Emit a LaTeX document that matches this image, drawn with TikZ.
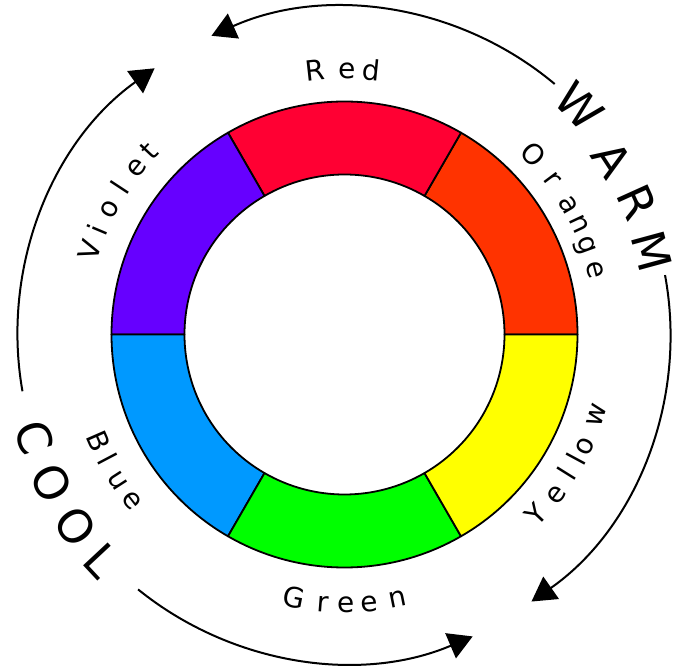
\documentclass[tikz,border=0pt]{standalone}
\usepackage{fontspec}
\setmainfont{DejaVu Sans}
\usetikzlibrary{arrows.meta}
\definecolor{segred}{HTML}{FF0033}
\definecolor{segorange}{HTML}{FF3300}
\definecolor{segyellow}{HTML}{FFFF00}
\definecolor{seggreen}{HTML}{00FF00}
\definecolor{segblue}{HTML}{0099FF}
\definecolor{segviolet}{HTML}{6600FF}
\begin{document}
\begin{tikzpicture}[x=1pt,y=1pt,
  lab/.style={font=\fontsize{28}{28}\selectfont, inner sep=0pt, anchor=base},
  big/.style={font=\fontsize{46}{46}\selectfont, inner sep=0pt, anchor=center},
  seg/.style={draw=black, line width=1.8pt, line join=round},
  cyc/.style={line width=2pt, -{Triangle[length=24pt,width=27pt]}}]
\useasboundingbox (-344.5,-336.5) rectangle (329.5,334.5);
% colour ring
\foreach \a/\b/\c in {0/60/segorange, 60/120/segred, 120/180/segviolet,
                      180/240/segblue, 240/300/seggreen, 300/360/segyellow}
  \draw[seg, fill=\c] (\a:233) arc[start angle=\a, end angle=\b, radius=233]
        -- (\b:160) arc[start angle=\b, end angle=\a, radius=160] -- cycle;
% colour labels (upper half, reading clockwise)
\foreach \ch/\a [count=\i] in {R/96.3,e/89.5,d/84.3}
  \node[lab, rotate=\a-90] (red\i) at (\a:255.5) {\ch};
\foreach \ch/\a [count=\i] in {O/43.7,r/36.7,a/30.1,n/25.1,g/20.2,e/14.4}
  \node[lab, rotate=\a-90] (orange\i) at (\a:251) {\ch};
\foreach \ch/\a [count=\i] in {V/161.6,i/157.1,o/151.9,l/146.7,e/141.3,t/136.8}
  \node[lab, rotate=\a-90] (violet\i) at (\a:258) {\ch};
% colour labels (lower half, reading anticlockwise)
\foreach \ch/\a [count=\i] in {B/203.6,l/207.8,u/212.8,e/218}
  \node[lab, rotate=\a+90] (blue\i) at (\a:278) {\ch};
\foreach \ch/\a [count=\i] in {G/259.1,r/265.45,e/270.26,e/275.26,n/281.4}
  \node[lab, rotate=\a+90] (green\i) at (\a:278) {\ch};
\foreach \ch/\a [count=\i] in {Y/-43.3,e/-37.1,l/-32,l/-28.3,o/-24.9,w/-17.8}
  \node[lab, rotate=\a+90] (yellow\i) at (\a:273) {\ch};
% WARM / COOL
\foreach \ch/\a/\r [count=\i] in {W/44.2/328,A/33.1/320,R/24.3/321,M/15.2/319}
  \node[big, rotate=\a-90] (warm\i) at (\a:\r) {\ch};
\foreach \ch/\a/\r [count=\i] in {C/198.3/327,O/206.9/328.5,O/215.5/330,L/223/332}
  \node[big, rotate=\a+90] (cool\i) at (\a:\r) {\ch};
% cycle arrows
\draw[cyc] (50:327) arc[start angle=50, end angle=114, radius=327];
\draw[cyc] (190:327) arc[start angle=190, end angle=125.5, radius=327];
\draw[cyc] (10.5:326) arc[start angle=10.5, end angle=-55, radius=326];
\draw[cyc] (231:328) arc[start angle=231, end angle=293, radius=328];
\end{tikzpicture}
\end{document}
